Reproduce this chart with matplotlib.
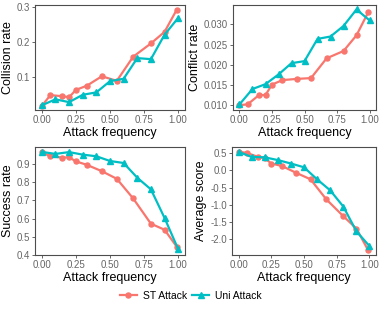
import numpy as np
import matplotlib.pyplot as plt
from matplotlib.lines import Line2D

plt.rcParams['font.family'] = ['Liberation Sans', 'DejaVu Sans']

# attack frequencies
x_st = [0.0, 0.0625, 0.15, 0.2, 0.25, 0.33, 0.44, 0.55, 0.67, 0.8, 0.9, 0.99]
x_uni = [0.0, 0.1, 0.2, 0.3, 0.4, 0.5, 0.6, 0.7, 0.8, 0.9, 1.0]

# metrics
collision_st = [0.018, 0.049, 0.046, 0.043, 0.064, 0.076, 0.103, 0.090, 0.159, 0.197, 0.230, 0.294]
collision_uni = [0.020, 0.037, 0.029, 0.050, 0.057, 0.089, 0.096, 0.155, 0.152, 0.222, 0.270]

conflict_st = [0.0100, 0.0102, 0.0125, 0.0125, 0.0151, 0.0162, 0.0165, 0.0167, 0.0216, 0.0234, 0.0273, 0.0330]
conflict_uni = [0.0102, 0.0140, 0.0152, 0.0176, 0.0204, 0.0209, 0.0264, 0.0270, 0.0296, 0.0337, 0.0310]

success_st = [0.964, 0.943, 0.936, 0.937, 0.915, 0.896, 0.861, 0.819, 0.711, 0.572, 0.539, 0.445]
success_uni = [0.967, 0.956, 0.966, 0.952, 0.943, 0.917, 0.906, 0.825, 0.761, 0.604, 0.432]

score_st = [0.54, 0.51, 0.39, 0.36, 0.20, 0.13, -0.07, -0.26, -0.84, -1.33, -1.69, -2.32]
score_uni = [0.54, 0.39, 0.38, 0.30, 0.20, 0.09, -0.26, -0.58, -1.05, -1.77, -2.20]

red = "#F8766D"
teal = "#00BFC4"
grey = "#4D4D4D"

fig = plt.figure(figsize=(3.82, 3.12), dpi=100)
W, H = 382, 312

def make_ax(x0, y0, x1, y1):
    return fig.add_axes([x0 / W, 1 - y1 / H, (x1 - x0) / W, (y1 - y0) / H])

panels = [
    (make_ax(35, 5, 185, 110), collision_st, collision_uni, "Collision rate",
     [0.1, 0.2, 0.3], ["0.1", "0.2", "0.3"], (0.0065, 0.307)),
    (make_ax(233, 5, 376, 110), conflict_st, conflict_uni, "Conflict rate",
     [0.010, 0.015, 0.020, 0.025, 0.030], ["0.010", "0.015", "0.020", "0.025", "0.030"], (0.0088, 0.0348)),
    (make_ax(35, 147, 185, 255), success_st, success_uni, "Success rate",
     [0.4, 0.5, 0.6, 0.7, 0.8, 0.9], ["0.4", "0.5", "0.6", "0.7", "0.8", "0.9"], (0.405, 0.994)),
    (make_ax(232, 147, 376, 255), score_st, score_uni, "Average score",
     [-2.0, -1.5, -1.0, -0.5, 0.0, 0.5], ["-2.0", "-1.5", "-1.0", "-0.5", "0.0", "0.5"], (-2.46, 0.68)),
]

for ax, st, uni, label, yt, ytl, ylim in panels:
    ax.plot(x_st, st, color=red, lw=1.6, marker="o", ms=3.6, zorder=3)
    ax.plot(x_uni, uni, color=teal, lw=1.6, marker="^", ms=4, zorder=4)
    ax.set_xlim(-0.05, 1.05)
    ax.set_ylim(*ylim)
    ax.set_xticks([0, 0.25, 0.5, 0.75, 1.0])
    ax.set_xticklabels(["0.00", "0.25", "0.50", "0.75", "1.00"])
    ax.set_yticks(yt)
    ax.set_yticklabels(ytl)
    ax.set_xlabel("Attack frequency", fontsize=9, labelpad=1)
    ax.set_ylabel(label, fontsize=9, labelpad=2)
    ax.tick_params(labelsize=7, colors=grey, labelcolor="#666666", length=2.5, width=0.6, pad=1.2)
    for s in ax.spines.values():
        s.set_color(grey)
        s.set_linewidth(0.8)

handles = [
    Line2D([], [], color=red, lw=1.6, marker="o", ms=3.6),
    Line2D([], [], color=teal, lw=1.6, marker="^", ms=4),
]
fig.legend(handles, ["ST Attack", "Uni Attack"], loc="center", bbox_to_anchor=(0.5, 1 - 296 / H),
           ncol=2, frameon=False, fontsize=7.5, handlelength=1.6, columnspacing=0.5, handletextpad=0.6)

fig.savefig("out.png", dpi=100)
